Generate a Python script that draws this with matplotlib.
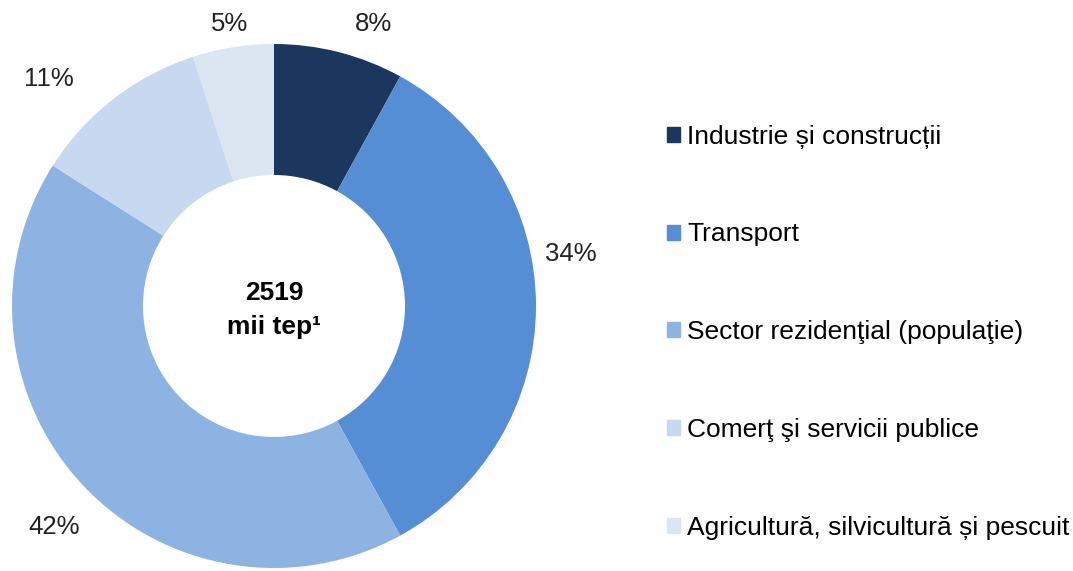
import matplotlib
matplotlib.use("Agg")
import matplotlib.pyplot as plt
import matplotlib.patches as mpatches
import numpy as np

plt.rcParams['font.family'] = ['Liberation Sans', 'DejaVu Sans']

categories = ["Industrie și construcții", "Transport", "Sector rezidenţial (populaţie)",
              "Comerţ şi servicii publice", "Agricultură, silvicultură și pescuit"]
shares = [8, 34, 42, 11, 5]
colors = ["#1b375e", "#558ed5", "#8db3e2", "#c6d9f1", "#dce6f2"]
center_total = "2519"
center_unit = "mii tep¹"

fig = plt.figure(figsize=(10.73, 5.71), dpi=100)
ax = fig.add_axes([12 / 1073, 3 / 571, 524 / 1073, 524 / 571])

wedges, _ = ax.pie(shares, colors=colors, startangle=90, counterclock=False,
                   radius=1, wedgeprops=dict(width=0.5, linewidth=0))
ax.set_xlim(-1, 1)
ax.set_ylim(-1, 1)
ax.set_aspect('equal')
ax.axis('off')

# percentage labels just outside the ring (small angle nudges like the original)
nudge = [-5, 10, 2, 7, 0]
dist = [1.14, 1.15, 1.19, 1.22, 1.09]
for w, s, n, d in zip(wedges, shares, nudge, dist):
    ang = np.deg2rad((w.theta1 + w.theta2) / 2 + n)
    ax.text(d * np.cos(ang), d * np.sin(ang), "%d%%" % s, ha='center', va='center',
            fontsize=18.5, color='#222222')

ax.text(0, 0.023, center_total, ha='center', va='baseline', fontsize=19, fontweight='bold')
ax.text(0, -0.107, center_unit, ha='center', va='baseline', fontsize=19, fontweight='bold')

handles = [mpatches.Patch(color=c, label=l) for c, l in zip(colors, categories)]
fig.legend(handles=handles, loc='upper left', bbox_to_anchor=(656 / 1073, 1 - 114 / 571),
           frameon=False, fontsize=19, labelspacing=2.8, handlelength=0.5,
           handleheight=0.5, handletextpad=0.28, borderaxespad=0)

fig.savefig("out.png", dpi=100)
